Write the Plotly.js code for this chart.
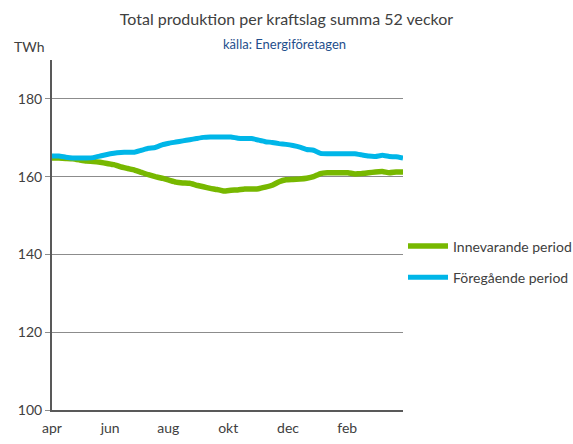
<!DOCTYPE html>
<html><head><meta charset="utf-8">
<script src="https://cdn.plot.ly/plotly-3.0.1.min.js"></script>
<style>body{margin:0;background:#fff}#c{width:573px;height:444px}</style>
</head><body><div id="c"></div>
<script>
const weeks = Array.from({length: 52}, (_, i) => i);
const innevarande = [164.8,164.8,164.7,164.6,164.3,164.0,163.9,163.7,163.4,163.1,162.5,162.1,161.7,161.1,160.5,160.0,159.6,159.1,158.6,158.4,158.3,157.8,157.4,157.0,156.7,156.3,156.5,156.6,156.8,156.8,156.9,157.3,157.8,158.7,159.2,159.3,159.4,159.6,160.0,160.8,161.0,161.0,161.0,161.0,160.7,160.8,161.0,161.2,161.3,161.0,161.2,161.2];
const foregaende = [165.3,165.3,165.0,164.8,164.8,164.8,164.9,165.3,165.7,166.0,166.2,166.3,166.3,166.8,167.3,167.5,168.2,168.6,168.9,169.2,169.5,169.8,170.1,170.2,170.2,170.2,170.2,169.9,169.8,169.8,169.4,169.0,168.8,168.5,168.3,168.0,167.6,167.0,166.8,166.0,165.9,165.9,165.9,165.9,165.9,165.6,165.3,165.2,165.5,165.2,165.1,164.8];
const monthTickWeeks = [0, 8.45, 16.9, 25.6, 34.3, 42.9];
const monthLabels = ['apr','jun','aug','okt','dec','feb'];
const seriesNames = ['Innevarande period','Föregående period'];

const font = 'Lato, "Open Sans", sans-serif';
const traces = [
  {x: weeks, y: innevarande, name: seriesNames[0], type: 'scatter', mode: 'lines',
   line: {color: '#77b800', width: 5.5, shape: 'spline', smoothing: 0.3}, legendgroup: 'a'},
  {x: weeks, y: foregaende, name: seriesNames[1], type: 'scatter', mode: 'lines',
   line: {color: '#00b6e8', width: 5, shape: 'spline', smoothing: 0.3}, legendgroup: 'b'}
];
const layout = {
  width: 573, height: 444,
  margin: {l: 52, r: 170, t: 60, b: 34, autoexpand: false},
  paper_bgcolor: '#fff', plot_bgcolor: '#fff',
  font: {family: font, color: '#404040', size: 14},
  title: {text: 'Total produktion per kraftslag summa 52 veckor', x: 0.5, xref: 'container',
          y: 0.957, yref: 'container', yanchor: 'middle', font: {size: 16, color: '#404040', family: font}},
  annotations: [
    {text: 'källa: Energiföretagen', xref: 'paper', yref: 'paper', x: 0.5, y: 1.0, xanchor: 'center', yanchor: 'bottom',
     showarrow: false, font: {size: 13, color: '#1f4e8c', family: font}, xshift: 57, yshift: 6},
    {text: 'TWh', xref: 'paper', yref: 'paper', x: 0, y: 1.0, xanchor: 'left', yanchor: 'bottom',
     showarrow: false, font: {size: 14, color: '#404040', family: font}, xshift: -40, yshift: 3}
  ],
  xaxis: {range: [0, 51], tickvals: monthTickWeeks, ticktext: monthLabels, showgrid: false, zeroline: false,
          showline: true, linecolor: '#595959', linewidth: 2, ticks: '', ticklabelstandoff: 4,
          tickfont: {size: 14, color: '#404040'}, fixedrange: true},
  yaxis: {range: [100, 190], tickvals: [100,120,140,160,180], showgrid: true, gridcolor: '#8c8c8c', gridwidth: 1,
          zeroline: false, showline: true, linecolor: '#595959', linewidth: 2, ticks: 'outside', ticklen: 5,
          tickcolor: '#8c8c8c', tickfont: {size: 14, color: '#404040'}, fixedrange: true},
  showlegend: true,
  legend: {x: 1.0, xanchor: 'left', y: 0.423, yanchor: 'middle', traceorder: 'grouped', tracegroupgap: 10,
           font: {size: 14, color: '#404040', family: font}, itemwidth: 40, bgcolor: 'rgba(0,0,0,0)'}
};
Plotly.newPlot('c', traces, layout, {staticPlot: true});
</script></body></html>
